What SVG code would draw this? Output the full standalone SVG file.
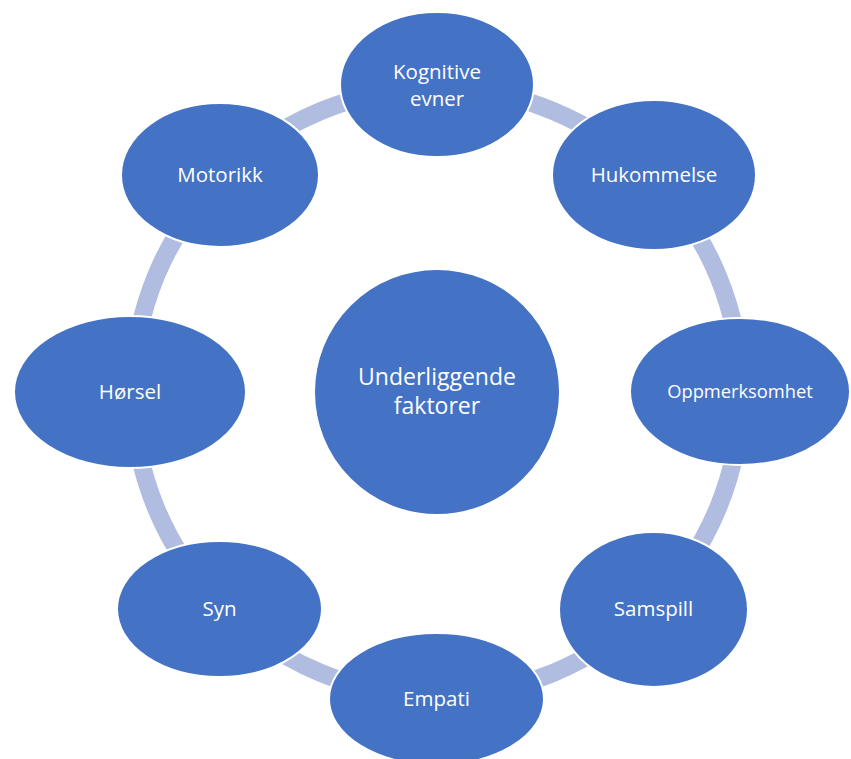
<svg xmlns="http://www.w3.org/2000/svg" width="851" height="759" viewBox="0 0 851 759">
  <style>
    .node { fill: #4472c4; stroke: #ffffff; stroke-width: 2; }
    .label { fill: #ffffff; font-family: "Open Sans", "Noto Sans", "Liberation Sans", sans-serif; font-size: 20.5px; text-anchor: middle; }
    .label.big { font-size: 23px; }
    .label.small { font-size: 18.3px; }
    .ring { fill: none; stroke: #b0bde0; stroke-width: 18; }
  </style>
  <rect width="851" height="759" fill="#ffffff"/>

  <!-- ring segments between neighbouring factors (centre 437,392) -->
  <g id="connectors">
    <path class="ring" d="M437,88 A304,304 0 0 1 651.96,177.04"/>
    <path class="ring" d="M651.96,177.04 A304,304 0 0 1 741,392"/>
    <path class="ring" d="M741,392 A304,304 0 0 1 651.96,606.96"/>
    <path class="ring" d="M651.96,606.96 A304,304 0 0 1 437,696"/>
    <path class="ring" d="M437,696 A304,304 0 0 1 222.04,606.96"/>
    <path class="ring" d="M222.04,606.96 A304,304 0 0 1 133,392"/>
    <path class="ring" d="M133,392 A304,304 0 0 1 222.04,177.04"/>
    <path class="ring" d="M222.04,177.04 A304,304 0 0 1 437,88"/>
  </g>

  <g id="center">
    <circle class="node" cx="437" cy="392" r="123"/>
    <text class="label big" x="437" y="385">Underliggende</text>
    <text class="label big" x="437" y="414">faktorer</text>
  </g>

  <g id="kognitive-evner">
    <ellipse class="node" cx="437" cy="84.5" rx="97" ry="72.5"/>
    <text class="label" x="437" y="79">Kognitive</text>
    <text class="label" x="437" y="106">evner</text>
  </g>

  <g id="hukommelse">
    <ellipse class="node" cx="654" cy="175" rx="102" ry="75"/>
    <text class="label" x="654" y="182">Hukommelse</text>
  </g>

  <g id="oppmerksomhet">
    <ellipse class="node" cx="740" cy="391.5" rx="110" ry="73.5"/>
    <text class="label small" x="740" y="398">Oppmerksomhet</text>
  </g>

  <g id="samspill">
    <ellipse class="node" cx="653.5" cy="609.5" rx="94.5" ry="77.5"/>
    <text class="label" x="653.5" y="616">Samspill</text>
  </g>

  <g id="empati">
    <ellipse class="node" cx="436.5" cy="699" rx="107.5" ry="66"/>
    <text class="label" x="436.5" y="706">Empati</text>
  </g>

  <g id="syn">
    <ellipse class="node" cx="219.5" cy="609" rx="102.5" ry="68"/>
    <text class="label" x="219.5" y="616">Syn</text>
  </g>

  <g id="horsel">
    <ellipse class="node" cx="130" cy="392" rx="116" ry="76"/>
    <text class="label" x="130" y="399">Hørsel</text>
  </g>

  <g id="motorikk">
    <ellipse class="node" cx="220" cy="175" rx="99" ry="72"/>
    <text class="label" x="220" y="182">Motorikk</text>
  </g>
</svg>
